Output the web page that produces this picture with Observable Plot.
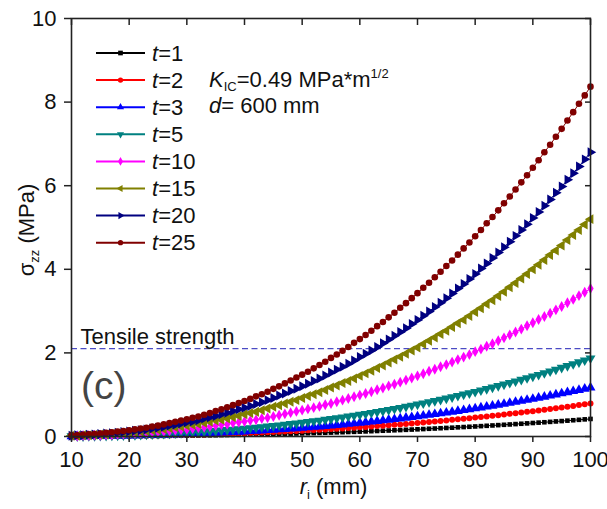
<!DOCTYPE html>
<html><head><meta charset="utf-8">
<script src="https://cdn.jsdelivr.net/npm/d3@7"></script>
<script src="https://cdn.jsdelivr.net/npm/@observablehq/plot@0.6"></script>
<style>
body{margin:0;background:#fff;}
#chart{width:607px;height:509px;}
</style></head><body><div id="chart"></div>
<script>
// ---- data ----
const rMM = [10,11,12,13,14,15,16,17,18,19,20,21,22,23,24,25,26,27,28,29,30,31,32,33,34,35,36,37,38,39,40,41,42,43,44,45,46,47,48,49,50,51,52,53,54,55,56,57,58,59,60,61,62,63,64,65,66,67,68,69,70,71,72,73,74,75,76,77,78,79,80,81,82,83,84,85,86,87,88,89,90,91,92,93,94,95,96,97,98,99,100];
const seriesNames = ["1","2","3","5","10","15","20","25"];
const t1 = [0.001,0.002,0.002,0.003,0.003,0.004,0.004,0.005,0.006,0.007,0.008,0.008,0.010,0.011,0.012,0.013,0.014,0.016,0.017,0.019,0.021,0.022,0.024,0.026,0.028,0.030,0.033,0.035,0.037,0.040,0.043,0.045,0.048,0.051,0.054,0.057,0.060,0.064,0.067,0.071,0.074,0.078,0.082,0.086,0.090,0.094,0.099,0.103,0.108,0.112,0.117,0.122,0.127,0.132,0.138,0.143,0.149,0.154,0.160,0.166,0.172,0.178,0.185,0.191,0.198,0.205,0.211,0.219,0.226,0.233,0.240,0.248,0.256,0.264,0.272,0.280,0.288,0.297,0.305,0.314,0.323,0.332,0.341,0.350,0.360,0.369,0.379,0.389,0.399,0.410,0.420];
const t2 = [0.002,0.003,0.004,0.005,0.006,0.007,0.008,0.009,0.011,0.012,0.014,0.016,0.018,0.020,0.022,0.025,0.027,0.030,0.033,0.036,0.039,0.042,0.046,0.049,0.053,0.057,0.061,0.066,0.070,0.075,0.080,0.085,0.090,0.096,0.101,0.107,0.113,0.120,0.126,0.133,0.140,0.147,0.154,0.162,0.169,0.177,0.185,0.194,0.202,0.211,0.220,0.230,0.239,0.249,0.259,0.269,0.280,0.290,0.301,0.312,0.324,0.336,0.347,0.360,0.372,0.385,0.398,0.411,0.424,0.438,0.452,0.466,0.481,0.496,0.511,0.526,0.542,0.558,0.574,0.590,0.607,0.624,0.641,0.659,0.677,0.695,0.713,0.732,0.751,0.770,0.790];
const t3 = [0.004,0.005,0.006,0.007,0.009,0.010,0.012,0.014,0.016,0.018,0.021,0.024,0.027,0.030,0.033,0.037,0.040,0.044,0.049,0.053,0.058,0.063,0.068,0.073,0.079,0.085,0.091,0.097,0.104,0.111,0.118,0.126,0.134,0.142,0.150,0.159,0.168,0.177,0.187,0.197,0.207,0.217,0.228,0.239,0.251,0.262,0.275,0.287,0.300,0.313,0.326,0.340,0.354,0.369,0.383,0.399,0.414,0.430,0.446,0.463,0.480,0.497,0.515,0.533,0.551,0.570,0.589,0.609,0.629,0.649,0.670,0.691,0.712,0.734,0.757,0.779,0.803,0.826,0.850,0.874,0.899,0.924,0.950,0.976,1.002,1.029,1.056,1.084,1.112,1.141,1.170];
const t5 = [0.006,0.008,0.009,0.011,0.014,0.016,0.019,0.022,0.026,0.029,0.033,0.038,0.042,0.047,0.053,0.058,0.064,0.071,0.078,0.085,0.092,0.100,0.108,0.117,0.126,0.136,0.145,0.156,0.166,0.178,0.189,0.201,0.214,0.227,0.240,0.254,0.268,0.283,0.299,0.314,0.331,0.347,0.365,0.382,0.401,0.420,0.439,0.459,0.479,0.500,0.521,0.543,0.566,0.589,0.613,0.637,0.662,0.687,0.713,0.740,0.767,0.794,0.823,0.851,0.881,0.911,0.942,0.973,1.005,1.037,1.070,1.104,1.139,1.174,1.209,1.246,1.283,1.320,1.358,1.397,1.437,1.477,1.518,1.560,1.602,1.645,1.689,1.733,1.778,1.824,1.870];
const t10 = [0.01,0.01,0.02,0.02,0.03,0.03,0.04,0.04,0.05,0.06,0.06,0.07,0.08,0.09,0.10,0.11,0.12,0.13,0.15,0.16,0.17,0.19,0.21,0.22,0.24,0.26,0.28,0.29,0.32,0.34,0.36,0.38,0.40,0.43,0.45,0.48,0.51,0.54,0.57,0.60,0.63,0.66,0.69,0.72,0.76,0.79,0.83,0.87,0.91,0.95,0.99,1.03,1.07,1.12,1.16,1.21,1.25,1.30,1.35,1.40,1.45,1.50,1.56,1.61,1.67,1.72,1.78,1.84,1.90,1.96,2.03,2.09,2.16,2.22,2.29,2.36,2.43,2.50,2.57,2.65,2.72,2.80,2.87,2.95,3.03,3.11,3.20,3.28,3.37,3.45,3.54];
const t15 = [0.02,0.02,0.03,0.03,0.04,0.05,0.05,0.06,0.07,0.08,0.09,0.11,0.12,0.13,0.15,0.16,0.18,0.20,0.22,0.24,0.26,0.28,0.30,0.33,0.35,0.38,0.40,0.43,0.46,0.49,0.53,0.56,0.59,0.63,0.67,0.71,0.75,0.79,0.83,0.87,0.92,0.97,1.01,1.06,1.11,1.17,1.22,1.28,1.33,1.39,1.45,1.51,1.57,1.64,1.70,1.77,1.84,1.91,1.98,2.06,2.13,2.21,2.29,2.37,2.45,2.53,2.62,2.71,2.79,2.88,2.98,3.07,3.17,3.26,3.36,3.46,3.57,3.67,3.78,3.89,4.00,4.11,4.22,4.34,4.45,4.57,4.70,4.82,4.94,5.07,5.20];
const t20 = [0.02,0.03,0.03,0.04,0.05,0.06,0.07,0.08,0.09,0.11,0.12,0.14,0.15,0.17,0.19,0.21,0.23,0.26,0.28,0.31,0.34,0.36,0.39,0.43,0.46,0.49,0.53,0.57,0.61,0.65,0.69,0.73,0.78,0.82,0.87,0.92,0.98,1.03,1.09,1.14,1.20,1.26,1.33,1.39,1.46,1.53,1.60,1.67,1.74,1.82,1.90,1.98,2.06,2.14,2.23,2.32,2.41,2.50,2.59,2.69,2.79,2.89,2.99,3.10,3.20,3.31,3.42,3.54,3.65,3.77,3.89,4.02,4.14,4.27,4.40,4.53,4.66,4.80,4.94,5.08,5.23,5.37,5.52,5.67,5.83,5.98,6.14,6.30,6.46,6.63,6.80];
const t25 = [0.03,0.03,0.04,0.05,0.06,0.07,0.09,0.10,0.12,0.13,0.15,0.17,0.19,0.21,0.24,0.26,0.29,0.32,0.35,0.38,0.41,0.45,0.48,0.52,0.56,0.61,0.65,0.70,0.75,0.80,0.85,0.90,0.96,1.01,1.07,1.14,1.20,1.27,1.34,1.41,1.48,1.55,1.63,1.71,1.79,1.88,1.96,2.05,2.14,2.24,2.33,2.43,2.53,2.64,2.74,2.85,2.96,3.08,3.19,3.31,3.43,3.56,3.68,3.81,3.94,4.08,4.21,4.35,4.50,4.64,4.79,4.94,5.10,5.25,5.41,5.58,5.74,5.91,6.08,6.25,6.43,6.61,6.80,6.98,7.17,7.36,7.56,7.76,7.96,8.16,8.37];
const tensileStrength = [2.1];
const xTicks = [10,20,30,40,50,60,70,80,90,100];
const yTicks = [0,2,4,6,8,10];
const seriesColors = ["#000000","#ff0000","#0000ff","#008080","#ff00ff","#808000","#000080","#800000"];

// ---- custom marker shapes ----
const S3 = Math.sqrt(3);
const triDown = {draw(c, size){ const y = -Math.sqrt(size/(S3*3)); c.moveTo(0,-y*2); c.lineTo(-S3*y,y); c.lineTo(S3*y,y); c.closePath(); }};
const triLeft = {draw(c, size){ const y = -Math.sqrt(size/(S3*3)); c.moveTo(y*2,0); c.lineTo(-y,-S3*y); c.lineTo(-y,S3*y); c.closePath(); }};
const triRight = {draw(c, size){ const y = -Math.sqrt(size/(S3*3)); c.moveTo(-y*2,0); c.lineTo(y,-S3*y); c.lineTo(y,S3*y); c.closePath(); }};
const seriesSymbols = [d3.symbolSquare, d3.symbolCircle, d3.symbolTriangle, triDown, d3.symbolDiamond, triLeft, triRight, d3.symbolCircle];
const seriesR = [2.6, 3.0, 3.7, 3.7, 3.3, 3.7, 3.7, 3.3];

const allValues = [t1,t2,t3,t5,t10,t15,t20,t25];
const series = seriesNames.map((name, i) => rMM.map((r, j) => ({r, v: allValues[i][j], t: name})));

const FONT = "'Liberation Sans', Arial, sans-serif";
const FS = 22;
const marks = [];
marks.push(Plot.ruleY(tensileStrength, {stroke: "#4b4bc4", strokeWidth: 1.2, strokeDasharray: "6,3.5"}));
series.forEach((d, i) => {
  marks.push(Plot.line(d, {x: "r", y: "v", stroke: seriesColors[i], strokeWidth: 1}));
  marks.push(Plot.dot(d, {x: "r", y: "v", fill: seriesColors[i], stroke: "none", symbol: seriesSymbols[i], r: seriesR[i]}));
});
marks.push(Plot.text(["Tensile strength"], {x: () => 10, y: () => tensileStrength[0], text: d => d, textAnchor: "start", lineAnchor: "bottom", dx: 9, dy: -5, fontSize: FS, fill: "#111"}));
marks.push(Plot.axisX(xTicks, {anchor: "bottom", tickSize: 6, tickPadding: 9, fontSize: FS, label: null, stroke: "#222", strokeWidth: 1.5, fill: "#111"}));
marks.push(Plot.axisX(xTicks, {anchor: "top", tickSize: -6, tickFormat: () => "", label: null, stroke: "#222", strokeWidth: 1.5}));
marks.push(Plot.axisY(yTicks, {anchor: "left", tickSize: 7, tickPadding: 8, fontSize: FS, label: null, stroke: "#222", strokeWidth: 1.5, fill: "#111"}));
marks.push(Plot.axisY(yTicks, {anchor: "right", tickSize: -6, tickFormat: () => "", label: null, stroke: "#222", strokeWidth: 1.5}));
marks.push(Plot.frame({stroke: "#222", strokeWidth: 1.6}));

const plot = Plot.plot({
  width: 607, height: 509,
  marginLeft: 71, marginRight: 17, marginTop: 18, marginBottom: 73,
  x: {domain: [10, 100]},
  y: {domain: [0, 10]},
  style: {fontFamily: FONT, fontSize: FS + "px", background: "#fff", color: "#111", overflow: "visible"},
  marks
});
document.getElementById("chart").appendChild(plot);

// ---- overlay texts: legend, annotation, axis titles ----
const svg = d3.select(plot);
const mLeft = 71, mTop = 18, mBottom = 509 - 73, mRight = 607 - 17;
const g = svg.append("g").attr("font-family", FONT).attr("fill", "#111").attr("text-anchor", "start");

// legend
const legX0 = mLeft + 25, legX1 = mLeft + 74, legY0 = mTop + 35, legStep = 27.1;
seriesNames.forEach((name, i) => {
  const y = legY0 + i * legStep;
  g.append("line").attr("x1", legX0).attr("x2", legX1).attr("y1", y).attr("y2", y)
    .attr("stroke", seriesColors[i]).attr("stroke-width", 2);
  g.append("path").attr("transform", `translate(${(legX0 + legX1) / 2},${y})`)
    .attr("d", d3.symbol(seriesSymbols[i], 22)()).attr("fill", seriesColors[i]);
  const tx = g.append("text").attr("x", legX1 + 7).attr("y", y + 7.5).attr("font-size", FS);
  tx.append("tspan").attr("font-style", "italic").text("t");
  tx.append("tspan").text("=" + name);
});

// annotation
const ann1 = g.append("text").attr("x", mLeft + 138).attr("y", mTop + 69).attr("font-size", FS);
ann1.append("tspan").attr("font-style", "italic").text("K");
ann1.append("tspan").attr("font-size", 13).attr("dy", 4).text("IC");
ann1.append("tspan").attr("dy", -4).text("=0.49 MPa*m");
ann1.append("tspan").attr("font-size", 13).attr("dy", -9).text("1/2");
const ann2 = g.append("text").attr("x", mLeft + 138).attr("y", mTop + 95).attr("font-size", FS);
ann2.append("tspan").attr("font-style", "italic").text("d");
ann2.append("tspan").text("= 600 mm");

// panel label
g.append("text").attr("x", mLeft + 10).attr("y", mBottom - 37).attr("font-size", 39).attr("fill", "#444").text("(c)");

// x title
const xt = g.append("text").attr("x", (mLeft + mRight) / 2 + 3).attr("y", 494).attr("text-anchor", "middle").attr("font-size", FS);
xt.append("tspan").attr("font-style", "italic").text("r");
xt.append("tspan").attr("font-size", 13).attr("dy", 5).text("i");
xt.append("tspan").attr("dy", -5).text(" (mm)");

// y title
const yt = g.append("text").attr("transform", `translate(34,${(mTop + mBottom) / 2 + 3}) rotate(-90)`).attr("text-anchor", "middle").attr("font-size", FS);
yt.append("tspan").text("σ");
yt.append("tspan").attr("font-size", 13).attr("dy", 5).text("zz");
yt.append("tspan").attr("dy", -5).text(" (MPa)");
</script></body></html>
